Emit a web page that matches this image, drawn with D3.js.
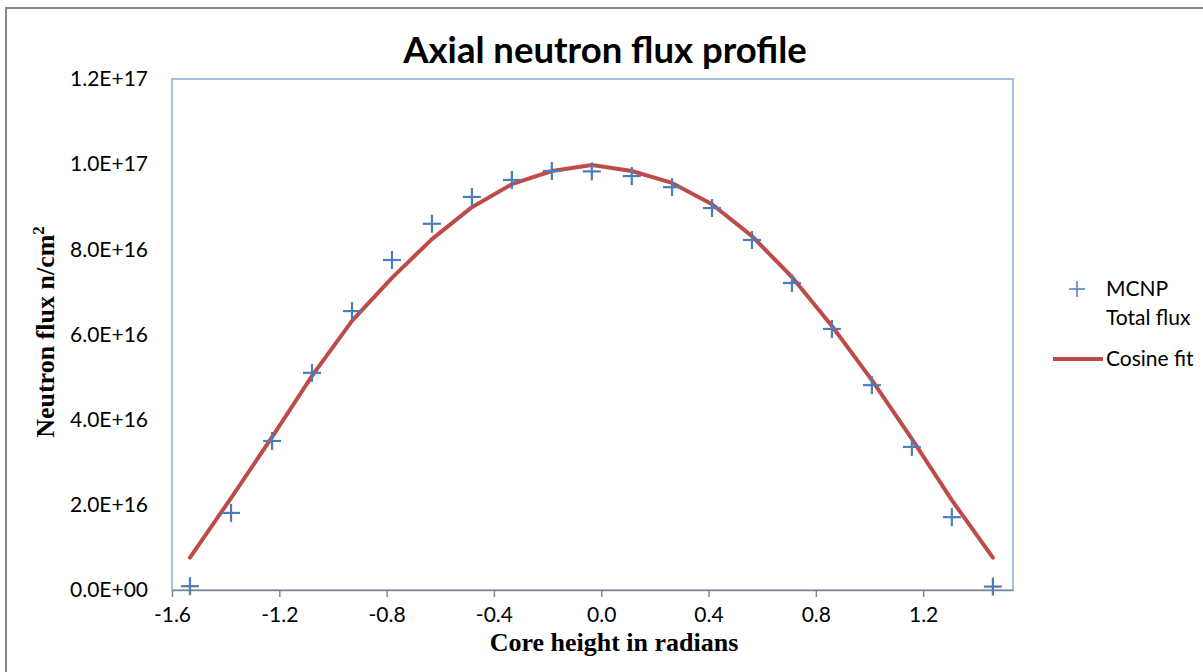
<!DOCTYPE html>
<html lang="en">
<head>
    <meta charset="utf-8">
    <title>Axial neutron flux profile</title>
    <script type="text/javascript" src="https://cdnjs.cloudflare.com/ajax/libs/d3/7.8.5/d3.min.js"></script>
    <style>
      body { margin: 0; background: #fff; }
      text { fill: #000; }
      .sans { font-family: Lato, "Open Sans", sans-serif; }
      .serif { font-family: "Liberation Serif", "DejaVu Serif", serif; font-weight: bold; }
    </style>
</head>
<body>
    <script type="text/javascript">
    // core height (radians) of each MCNP tally cell
    var heights = [-1.533, -1.380, -1.227, -1.078, -0.929, -0.780, -0.631, -0.482, -0.333, -0.184, -0.035,
                   0.114, 0.264, 0.413, 0.562, 0.711, 0.860, 1.009, 1.158, 1.307, 1.460];
    // MCNP total flux, n/cm2
    var mcnpFlux = [0.09e16, 1.81e16, 3.50e16, 5.10e16, 6.55e16, 7.75e16, 8.60e16, 9.23e16, 9.63e16, 9.84e16, 9.83e16,
                    9.72e16, 9.46e16, 8.97e16, 8.22e16, 7.21e16, 6.13e16, 4.81e16, 3.36e16, 1.71e16, 0.08e16];
    // cosine fit values at the same heights
    var cosineFit = [0.76e16, 2.16e16, 3.59e16, 5.03e16, 6.32e16, 7.33e16, 8.24e16, 8.99e16, 9.53e16, 9.84e16, 9.98e16,
                     9.84e16, 9.56e16, 9.06e16, 8.31e16, 7.35e16, 6.20e16, 4.93e16, 3.55e16, 2.11e16, 0.76e16];
    var xTicks = [-1.6, -1.2, -0.8, -0.4, 0.0, 0.4, 0.8, 1.2];
    var yTicks = [0, 2e16, 4e16, 6e16, 8e16, 1e17, 1.2e17];

    var width = 1203, height = 672;
    var plot = {left: 172, right: 1013, top: 79, bottom: 590};

    var svg = d3.select("body").append("svg")
                .attr("width", width)
                .attr("height", height);

    // outer chart border (only top and left visible)
    svg.append("rect")
       .attr("x", 6).attr("y", 8)
       .attr("width", width + 20).attr("height", height + 20)
       .attr("fill", "none")
       .attr("stroke", "#868686")
       .attr("stroke-width", 2);

    var xScale = d3.scaleLinear().domain([-1.6, 1.535]).range([plot.left, plot.right]);
    var yScale = d3.scaleLinear().domain([0, 1.2e17]).range([plot.bottom, plot.top]);

    // plot area frame
    svg.append("rect")
       .attr("x", plot.left).attr("y", plot.top)
       .attr("width", plot.right - plot.left).attr("height", plot.bottom - plot.top)
       .attr("fill", "none")
       .attr("stroke", "#7ba0d4")
       .attr("stroke-width", 1.3);

    // x axis
    var xAxis = d3.axisBottom(xScale)
                  .tickValues(xTicks)
                  .tickSize(7)
                  .tickSizeOuter(0)
                  .tickPadding(10)
                  .tickFormat(function(d) { return d.toFixed(1); });
    var gx = svg.append("g")
       .attr("transform", "translate(0," + plot.bottom + ")")
       .call(xAxis);
    gx.select(".domain").attr("stroke", "#868686").attr("stroke-width", 1.5);
    gx.selectAll(".tick line").attr("stroke", "#868686").attr("stroke-width", 1.5);
    gx.selectAll(".tick text").attr("class", "sans").attr("font-size", 21).attr("fill", "#000");

    // y axis (labels only)
    var yAxis = d3.axisLeft(yScale)
                  .tickValues(yTicks)
                  .tickSize(0)
                  .tickPadding(24)
                  .tickFormat(function(d) {
                    var e = d === 0 ? 0 : Math.floor(Math.log10(d) + 1e-9);
                    var m = d === 0 ? 0 : d / Math.pow(10, e);
                    return m.toFixed(1) + "E+" + (e < 10 ? "0" + e : e);
                  });
    var gy = svg.append("g")
       .attr("transform", "translate(" + plot.left + ",0)")
       .call(yAxis);
    gy.select(".domain").remove();
    gy.selectAll(".tick text").attr("class", "sans").attr("font-size", 21).attr("fill", "#000");

    // cosine fit line
    var line = d3.line()
                 .x(function(d, i) { return xScale(heights[i]); })
                 .y(function(d) { return yScale(d); });
    svg.append("path")
       .datum(cosineFit)
       .attr("d", line)
       .attr("fill", "none")
       .attr("stroke", "#be4b48")
       .attr("stroke-width", 4)
       .attr("stroke-linejoin", "round")
       .attr("stroke-linecap", "round");

    // MCNP points as plus markers
    var arm = 9;
    var marks = svg.append("g")
       .selectAll("g")
       .data(mcnpFlux)
       .enter()
       .append("g")
       .attr("transform", function(d, i) {
         return "translate(" + xScale(heights[i]) + "," + yScale(d) + ")";
       });
    marks.append("line").attr("x1", -arm).attr("x2", arm).attr("y1", 0).attr("y2", 0);
    marks.append("line").attr("x1", 0).attr("x2", 0).attr("y1", -arm).attr("y2", arm);
    marks.selectAll("line").attr("stroke", "#4a7ebb").attr("stroke-width", 2.2);

    // title
    svg.append("text")
       .attr("class", "sans")
       .attr("x", 605).attr("y", 63)
       .attr("text-anchor", "middle")
       .attr("font-weight", "bold")
       .attr("font-size", 36.5)
       .text("Axial neutron flux profile");

    // axis titles
    svg.append("text")
       .attr("class", "serif")
       .attr("x", 614).attr("y", 651)
       .attr("text-anchor", "middle")
       .attr("font-size", 26)
       .text("Core height in radians");

    var yt = svg.append("text")
       .attr("class", "serif")
       .attr("transform", "translate(54,332) rotate(-90)")
       .attr("text-anchor", "middle")
       .attr("font-size", 26);
    yt.append("tspan").text("Neutron flux n/cm");
    yt.append("tspan").attr("dy", -10).attr("font-size", 17).text("2");

    // legend
    var leg = svg.append("g");
    leg.append("line").attr("x1", 1069).attr("x2", 1085).attr("y1", 289).attr("y2", 289);
    leg.append("line").attr("x1", 1077).attr("x2", 1077).attr("y1", 281).attr("y2", 297);
    leg.selectAll("line").attr("stroke", "#4a7ebb").attr("stroke-width", 1.5);
    leg.append("text").attr("class", "sans").attr("x", 1106).attr("y", 296).attr("font-size", 21).text("MCNP");
    leg.append("text").attr("class", "sans").attr("x", 1106).attr("y", 325).attr("font-size", 21).text("Total flux");
    leg.append("line")
       .attr("x1", 1053).attr("x2", 1103).attr("y1", 359).attr("y2", 359)
       .attr("stroke", "#be4b48").attr("stroke-width", 4);
    leg.append("text").attr("class", "sans").attr("x", 1106).attr("y", 366).attr("font-size", 21).text("Cosine fit");
    </script>
</body>
</html>
